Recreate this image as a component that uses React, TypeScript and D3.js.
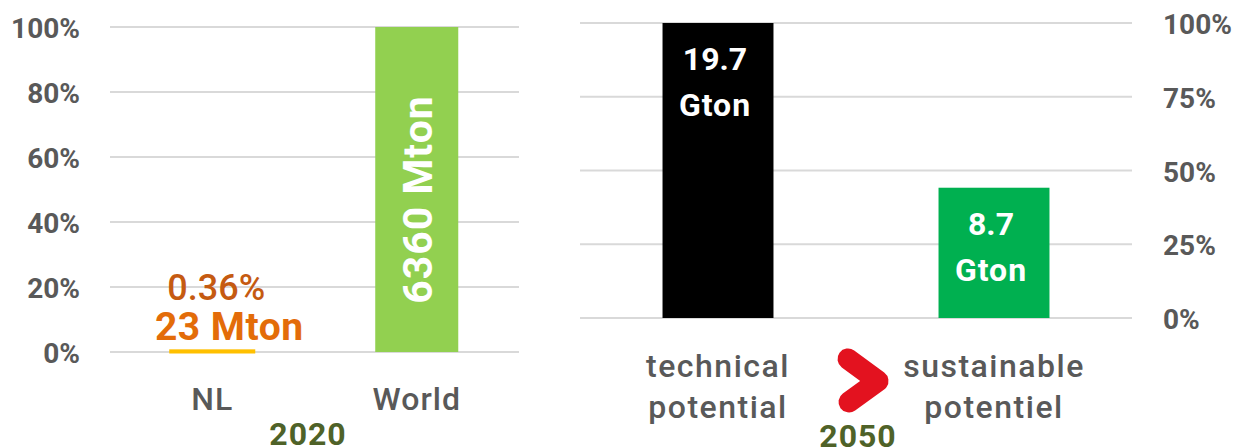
import React from 'react';
import * as d3 from 'd3';

// ---- data ----
const leftCategories = ['NL', 'World'];
const leftValuesPct = [0.36, 100];
const leftValueLabels = [['0.36%', '23 Mton'], ['6360 Mton']];
const leftTicks = [0, 20, 40, 60, 80, 100];
const leftYear = '2020';

const rightCategories = [['technical', 'potential'], ['sustainable', 'potentiel']];
const rightValuesGton = [19.7, 8.7];
const rightValueLabels = [['19.7', 'Gton'], ['8.7', 'Gton']];
const rightTicks = [0, 25, 50, 75, 100];
const rightYear = '2050';

const leftColors = ['#FFC000', '#92D050'];
const rightColors = ['#000000', '#00B050'];

const FONT = 'Roboto, "DejaVu Sans", sans-serif';
const AXIS_COLOR = '#595959';
const GRID = '#D9D9D9';

export default function App() {
  const W = 1234, H = 448;

  // left chart scales
  const xL = d3.scaleBand<string>().domain(leftCategories).range([110, 519]).paddingInner(0.594).paddingOuter(0.297);
  const yL = d3.scaleLinear().domain([0, 100]).range([352, 27]);

  // right chart scales
  const rightKeys = rightCategories.map((c) => c.join(' '));
  const xR = d3.scaleBand<string>().domain(rightKeys).range([580, 1132]).paddingInner(0.598).paddingOuter(0.299);
  const yR = d3.scaleLinear().domain([0, 100]).range([318, 23]);
  const rMax = d3.max(rightValuesGton) as number;

  const nlC = (xL('NL') as number) + xL.bandwidth() / 2;
  const wC = (xL('World') as number) + xL.bandwidth() / 2;

  const chevron = d3.line()([
    [848, 359],
    [878, 381],
    [849, 402],
  ]) as string;

  return (
    <svg width={W} height={H} style={{ position: 'absolute', left: 0, top: 0, background: '#fff' }} fontFamily={FONT}>
      {/* left gridlines */}
      {leftTicks.map((t) => (
        <g key={'lg' + t}>
          <line x1={110} x2={519} y1={yL(t)} y2={yL(t)} stroke={GRID} strokeWidth={2} />
          <text x={80} y={yL(t) + 11} textAnchor="end" fontSize={28} fontWeight={700} fill={AXIS_COLOR}>
            {t}%
          </text>
        </g>
      ))}
      {/* left bars */}
      {leftCategories.map((c, i) => (
        <rect
          key={'lb' + c}
          x={xL(c)}
          width={xL.bandwidth()}
          y={yL(leftValuesPct[i])}
          height={yL(0) - yL(leftValuesPct[i])}
          fill={leftColors[i]}
          stroke={i === 0 ? leftColors[i] : 'none'}
          strokeWidth={i === 0 ? 3 : 0}
        />
      ))}
      {/* left category labels */}
      {leftCategories.map((c) => (
        <text
          key={'lc' + c}
          x={(xL(c) as number) + xL.bandwidth() / 2}
          y={410}
          textAnchor="middle"
          fontSize={32}
          fontWeight={500}
          letterSpacing={1}
          fill={AXIS_COLOR}
        >
          {c}
        </text>
      ))}
      {/* NL labels */}
      <text x={nlC + 4} y={yL(0) - 52} textAnchor="middle" fontSize={36} fontWeight={500} fill="#C55A11">
        {leftValueLabels[0][0]}
      </text>
      <text x={nlC + 17} y={yL(0) - 12} textAnchor="middle" fontSize={39} fontWeight={700} letterSpacing={0.5} fill="#E36C09">
        {leftValueLabels[0][1]}
      </text>
      {/* World label (rotated) */}
      <text
        transform={`translate(${wC + 15},${yL(50) + 10}) rotate(-90)`}
        textAnchor="middle"
        fontSize={41}
        fontWeight={700}
        letterSpacing={1}
        fill="#ffffff"
      >
        {leftValueLabels[1][0]}
      </text>
      <text x={308} y={445} textAnchor="middle" fontSize={32} fontWeight={700} letterSpacing={1} fill="#4F6228">
        {leftYear}
      </text>

      {/* right gridlines */}
      {rightTicks.map((t) => (
        <g key={'rg' + t}>
          <line x1={580} x2={1132} y1={yR(t)} y2={yR(t)} stroke={GRID} strokeWidth={2} />
          <text x={1163} y={yR(t) + 11} textAnchor="start" fontSize={28} fontWeight={700} fill={AXIS_COLOR}>
            {t}%
          </text>
        </g>
      ))}
      {/* right bars */}
      {rightKeys.map((k, i) => {
        const pct = (rightValuesGton[i] / rMax) * 100;
        const top = yR(pct);
        const cx = (xR(k) as number) + xR.bandwidth() / 2;
        return (
          <g key={'rb' + k}>
            <rect x={xR(k)} width={xR.bandwidth()} y={top} height={yR(0) - top} fill={rightColors[i]} />
            <text x={cx - 3} y={top + 47} textAnchor="middle" fontSize={32} fontWeight={700} fill="#ffffff">
              {rightValueLabels[i][0]}
            </text>
            <text x={cx - 3} y={top + 93} textAnchor="middle" fontSize={32} fontWeight={700} letterSpacing={1} fill="#ffffff">
              {rightValueLabels[i][1]}
            </text>
            {rightCategories[i].map((line, j) => (
              <text
                key={line}
                x={cx}
                y={377 + j * 41}
                textAnchor="middle"
                fontSize={32}
                fontWeight={500}
                letterSpacing={1.5}
                fill={AXIS_COLOR}
              >
                {line}
              </text>
            ))}
          </g>
        );
      })}
      {/* red chevron */}
      <path d={chevron} fill="none" stroke="#E3121F" strokeWidth={21} strokeLinecap="round" strokeLinejoin="round" />
      <text x={858} y={447} textAnchor="middle" fontSize={32} fontWeight={700} letterSpacing={1} fill="#4F6228">
        {rightYear}
      </text>
    </svg>
  );
}
